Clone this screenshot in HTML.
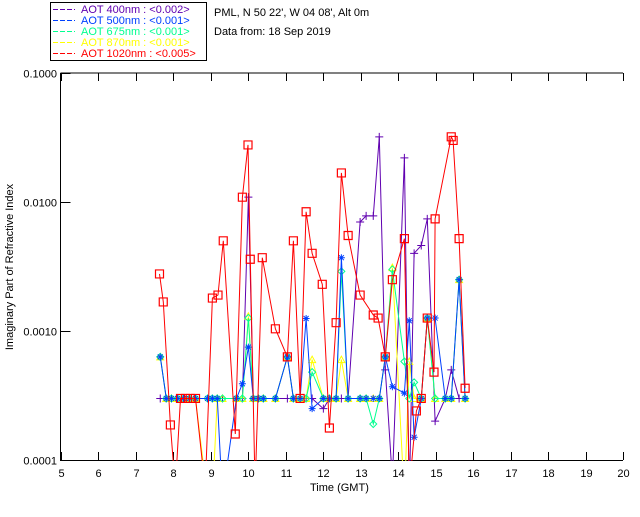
<!DOCTYPE html>
<html><head><meta charset="utf-8"><style>
body{margin:0;background:#fff;width:640px;height:512px;overflow:hidden}
svg text{font-family:"Liberation Sans",sans-serif;font-size:11px}
</style></head><body>
<svg width="640" height="512" xmlns="http://www.w3.org/2000/svg">
<rect x="50.5" y="2.5" width="156" height="58" fill="#fff" stroke="#000"/>
<g id="legend"></g>
<text x="214" y="16">PML, N 50 22', W 04 08', Alt 0m</text>
<text x="214" y="35">Data from: 18 Sep 2019</text>
<g id="axes"></g>
<defs><clipPath id="pc"><rect x="60" y="73" width="564" height="388"/></clipPath></defs>
<g id="plot" clip-path="url(#pc)"></g>
<text x="310" y="491">Time (GMT)</text>
<text transform="translate(13,267) rotate(-90)" text-anchor="middle">Imaginary Part of Refractive Index</text>
</svg>
<script>
const xTicks=[5,6,7,8,9,10,11,12,13,14,15,16,17,18,19,20];
const yTicks=[0.1,0.01,0.001,0.0001];
const yTickLabels=["0.1000","0.0100","0.0010","0.0001"];
const legendLabels=["AOT  400nm : <0.002>","AOT  500nm : <0.001>","AOT  675nm : <0.001>","AOT  870nm : <0.001>","AOT 1020nm : <0.005>"];
const tBase=[7.66,7.82,7.96,8.12,8.28,8.44,8.60,8.92,9.05,9.18,9.32,9.69,9.85,10.01,10.14,10.28,10.41,10.73,11.05,11.21,11.39,11.55,11.71,12.01,12.17,12.35,12.49,12.67,12.99,13.15,13.34,13.50,13.66,13.85,14.17,14.30,14.43,14.62,14.78,14.99,15.26,15.42,15.63,15.79];
const v400=[.0003,.0003,.0003,.0003,.0003,.0003,.0003,.0003,.0003,.0003,.0003,.0003,.0003,.0109,.0003,.0003,.0003,.0003,.0003,.0003,.0003,.0003,.0003,.00025,.0003,.0003,.0003,.0003,.0070,.0078,.0078,.032,.0005,.00007,.022,.00005,.004,.0046,.0074,.0002,.0003,.0005,.0003,.0003];
const v500=[.00063,.0003,.0003,.0003,.0003,.0003,.0003,.0003,.0003,.0003,.00005,.0003,.00039,.00075,.0003,.0003,.0003,.0003,.00063,.0003,.0003,.00125,.00025,.0003,.0003,.0003,.0037,.0003,.0003,.0003,.0003,.0003,.00063,.00037,.00033,.0012,.00015,.0003,.00126,.00126,.0003,.0003,.0025,.0003];
const v675=[.00063,.0003,.0003,.0003,.0003,.0003,.0003,.0003,.0003,.0003,.0003,.0003,.0003,.00126,.0003,.0003,.0003,.0003,.00063,.0003,.0003,.0003,.00048,.0003,.0003,.0003,.0029,.0003,.0003,.0003,.00019,.0003,.00063,.003,.00058,.0003,.0004,.0003,.00126,.0003,.0003,.0003,.0025,.0003];
const v870=[.00063,.0003,.0003,.0003,.0003,.0003,.0003,.00005,.00005,.0003,.0003,.0003,.0003,.0013,.0003,.0003,.0003,.0003,.00063,.0003,.0003,.0003,.0006,.0003,.0003,.0003,.0006,.0003,.0003,.0003,.0003,.0003,.00063,.0031,.00005,.00058,.0003,.0003,.00126,.0003,.0003,.0003,.0025,.0003];
const tRed=[7.64,7.74,7.93,8.06,8.20,8.33,8.46,8.60,8.86,9.05,9.20,9.34,9.66,9.85,10.00,10.06,10.19,10.38,10.73,11.05,11.21,11.39,11.55,11.71,11.98,12.17,12.35,12.49,12.67,12.99,13.34,13.47,13.66,13.85,14.17,14.30,14.49,14.62,14.78,14.96,14.99,15.42,15.47,15.63,15.79];
const v1020=[.00277,.00168,.000187,.00006,.0003,.0003,.0003,.0003,.00006,.0018,.0019,.005,.000159,.0109,.0277,.0036,.00006,.0037,.00104,.00063,.005,.0003,.0084,.004,.0023,.000177,.00116,.0168,.0055,.0019,.00133,.00126,.00063,.0025,.0052,.00006,.00024,.0003,.00126,.00048,.0074,.032,.030,.0052,.00036];
const NS="http://www.w3.org/2000/svg";
const X0=60.5,X1=623,Y0=73,DEC=129;
const xs=t=>X0+(t-5)*(X1-X0)/15;
const ys=v=>Y0+(-1-Math.log10(v))*DEC;
function mk(tag,at,parent){const e=document.createElementNS(NS,tag);for(const k in at)e.setAttribute(k,at[k]);parent.appendChild(e);return e;}
const axes=document.getElementById('axes'),plot=document.getElementById('plot'),leg=document.getElementById('legend');
const frame=mk('path',{d:`M${X0} ${Y0}H${X1}M${X0} ${Y0}V460.5H${X1}`,stroke:'#000',fill:'none'},axes);


xTicks.forEach(t=>{const x=Math.round(xs(t))+0.5;
 const tk=mk('path',{d:`M${x} 460V452M${x} 73V81`,stroke:'#000'},axes);
 
 
 const l=mk('text',{x:x,y:477,'text-anchor':'middle'},axes);l.textContent=t;
 
 });
yTicks.forEach((v,i)=>{const y=Math.round(ys(v))+0.5;
 const tk=mk('path',{d:`M${X0} ${y}H${X0+10}`,stroke:'#000'},axes);
 
 
 const l=mk('text',{x:57,y:y+4,'text-anchor':'end'},axes);l.textContent=yTickLabels[i];
 
 });
const colors=['#6000b0','#0040ff','#00ff90','#ffff00','#ff0000'];
legendLabels.forEach((s,i)=>{const y=13+i*11;
 const ln=mk('line',{x1:53,x2:75,y1:y-3.5,y2:y-3.5,stroke:colors[i],'stroke-dasharray':'5,2'},leg);
 
 
 const t=mk('text',{x:81,y:y,fill:colors[i],'xml:space':'preserve'},leg);t.textContent=s;
 
 });
function marker(kind,x,y,c,g){
 let d;
 if(kind==='plus')d=`M${x-4} ${y}H${x+4}M${x} ${y-4}V${y+4}`;
 else if(kind==='star')d=`M${x-3.5} ${y}H${x+3.5}M${x} ${y-3.5}V${y+3.5}M${x-2.5} ${y-2.5}L${x+2.5} ${y+2.5}M${x-2.5} ${y+2.5}L${x+2.5} ${y-2.5}`;
 else if(kind==='diam')d=`M${x} ${y-3.5}L${x+3.5} ${y}L${x} ${y+3.5}L${x-3.5} ${y}Z`;
 else if(kind==='tri')d=`M${x} ${y-3.5}L${x+3.5} ${y+3}H${x-3.5}Z`;
 else d=`M${x-4} ${y-4}h8v8h-8Z`;
 const m=mk('path',{d:d,stroke:c,fill:'none','stroke-width':kind==='sq'?1.2:1},g);
 
 
}
function series(ts,vs,c,kind,name){
 const g=mk('g',{},plot);
 
 
 const pts=ts.map((t,i)=>`${xs(t).toFixed(1)},${ys(vs[i]).toFixed(1)}`).join(' ');
 const pl=mk('polyline',{points:pts,fill:'none',stroke:c,'stroke-width':1},g);
 
 
 ts.forEach((t,i)=>marker(kind,xs(t),ys(vs[i]),c,g));
}
series(tBase,v400,colors[0],'plus','series-400nm');
series(tBase,v870,colors[3],'tri','series-870nm');
series(tBase,v675,colors[2],'diam','series-675nm');
series(tBase,v500,colors[1],'star','series-500nm');
series(tRed,v1020,colors[4],'sq','series-1020nm');
</script>
</body></html>
